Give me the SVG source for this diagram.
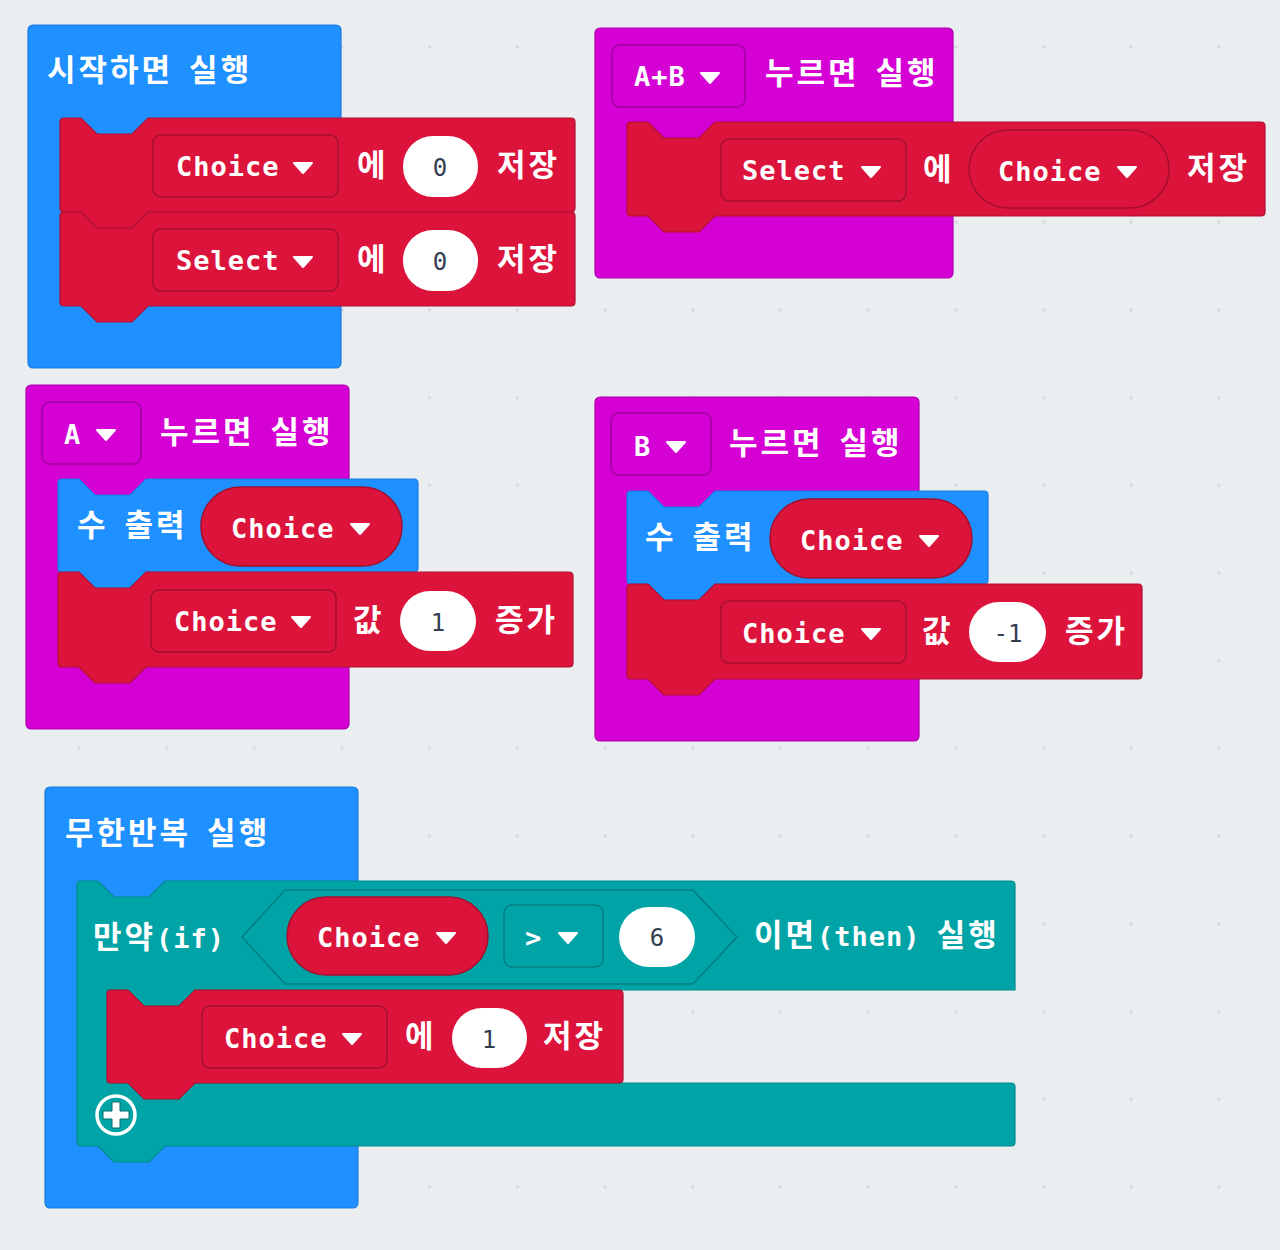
<svg xmlns="http://www.w3.org/2000/svg" xmlns:xlink="http://www.w3.org/1999/xlink" width="1280" height="1250" viewBox="0 0 1280 1250">
<style>
.k{font-family:"Noto Sans CJK KR","Noto Sans CJK SC",sans-serif;font-size:31px;font-weight:700;fill:#fff;letter-spacing:3px;word-spacing:6px}
.m{font-family:"DejaVu Sans Mono","Liberation Mono",monospace;font-size:27px;font-weight:700;fill:#fff;letter-spacing:1px}
.lm{font-family:"DejaVu Sans Mono","Liberation Mono",monospace;font-size:27px;font-weight:700;letter-spacing:1px}
.n{font-family:"DejaVu Sans Mono","Liberation Mono",monospace;font-size:24px;fill:#333d4f;text-anchor:middle}
.blue{fill:#1e90ff;stroke:#1a7de0;stroke-width:1.2}
.mag{fill:#d400d4;stroke:#b000b0;stroke-width:1.2}
.red{fill:#dc143c;stroke:#b01031;stroke-width:1.2}
.teal{fill:#00a4a6;stroke:#008a8c;stroke-width:1.2}
.ddr{fill:#dc143c;stroke:#a30f2c;stroke-width:1.5}
.ddm{fill:#d400d4;stroke:#a000a0;stroke-width:1.5}
.ddt{fill:#00a4a6;stroke:#007f81;stroke-width:1.5}
.wo{fill:#fff}
.arr{fill:#fff;stroke:#fff;stroke-width:2;stroke-linejoin:round}
</style>
<defs>
<pattern id="grid" patternUnits="userSpaceOnUse" x="35" y="3" width="87.7" height="87.7">
<path d="M41.85,43.85h4M43.85,41.85v4" stroke="#cdd3d8" stroke-width="1"/>
</pattern>
<path id="arrow" d="M-9,-4L9,-4L0,6Z"/>
</defs>
<rect width="1280" height="1250" fill="#ebeef0"/>
<rect width="1280" height="1250" fill="url(#grid)"/>

<g id="on-start">
<rect class="blue" x="28" y="25" width="313" height="343" rx="5"/>
<text class="k" x="47" y="81">시작하면 실행</text>
<g id="set-choice-0">
<path class="red" d="M60,122 Q60,118 64,118 H81 L97,134 H132 L148,118 H571 Q575,118 575,122 V208 Q575,212 571,212 H148 L132,228 H97 L81,212 H64 Q60,212 60,208 Z"/>
<rect class="ddr" x="153" y="135" width="185" height="62" rx="8"/>
<text class="m" x="176" y="176">Choice</text>
<use href="#arrow" class="arr" x="303" y="167"/>
<text class="k" x="357" y="176">에</text>
<rect class="wo" x="403" y="136" width="75" height="61" rx="30"/>
<text class="n" x="440" y="176">0</text>
<text class="k" x="497" y="176">저장</text>
</g>
<g id="set-select-0">
<path class="red" d="M60,216 Q60,212 64,212 H81 L97,228 H132 L148,212 H571 Q575,212 575,216 V302 Q575,306 571,306 H148 L132,322 H97 L81,306 H64 Q60,306 60,302 Z"/>
<rect class="ddr" x="153" y="229" width="185" height="62" rx="8"/>
<text class="m" x="176" y="270">Select</text>
<use href="#arrow" class="arr" x="303" y="261"/>
<text class="k" x="357" y="270">에</text>
<rect class="wo" x="403" y="230" width="75" height="61" rx="30"/>
<text class="n" x="440" y="270">0</text>
<text class="k" x="497" y="270">저장</text>
</g>
</g>

<g id="on-ab">
<rect class="mag" x="595" y="28" width="358" height="250" rx="5"/>
<rect class="ddm" x="612" y="45" width="133" height="62" rx="8"/>
<text class="m" x="634" y="86">A+B</text>
<use href="#arrow" class="arr" x="710" y="77"/>
<text class="k" x="765" y="84">누르면 실행</text>
<g id="set-select-choice">
<path class="red" d="M627,126 Q627,122 631,122 H648 L664,138 H699 L715,122 H1261 Q1265,122 1265,126 V212 Q1265,216 1261,216 H715 L699,232 H664 L648,216 H631 Q627,216 627,212 Z"/>
<rect class="ddr" x="721" y="139" width="185" height="62" rx="8"/>
<text class="m" x="742" y="180">Select</text>
<use href="#arrow" class="arr" x="871" y="171"/>
<text class="k" x="923" y="180">에</text>
<rect class="ddr" x="969" y="130" width="200" height="78" rx="39"/>
<text class="m" x="998" y="181">Choice</text>
<use href="#arrow" class="arr" x="1127" y="171"/>
<text class="k" x="1187" y="179">저장</text>
</g>
</g>

<g id="on-a">
<rect class="mag" x="26" y="385" width="323" height="344" rx="5"/>
<rect class="ddm" x="42" y="402" width="99" height="62" rx="8"/>
<text class="m" x="64" y="444">A</text>
<use href="#arrow" class="arr" x="106" y="434"/>
<text class="k" x="160" y="443">누르면 실행</text>
<g id="show-a">
<path class="blue" d="M58,483 Q58,479 62,479 H79 L95,495 H130 L146,479 H414 Q418,479 418,483 V568 Q418,572 414,572 H146 L130,588 H95 L79,572 H62 Q58,572 58,568 Z"/>
<text class="k" x="77" y="536">수 출력</text>
<rect class="ddr" x="201" y="487" width="201" height="79" rx="39.5"/>
<text class="m" x="231" y="538">Choice</text>
<use href="#arrow" class="arr" x="360" y="528"/>
</g>
<g id="change-a">
<path class="red" d="M58,576 Q58,572 62,572 H79 L95,588 H130 L146,572 H569 Q573,572 573,576 V663 Q573,667 569,667 H146 L130,683 H95 L79,667 H62 Q58,667 58,663 Z"/>
<rect class="ddr" x="151" y="590" width="185" height="62" rx="8"/>
<text class="m" x="174" y="631">Choice</text>
<use href="#arrow" class="arr" x="301" y="621"/>
<text class="k" x="353" y="631">값</text>
<rect class="wo" x="400" y="591" width="76" height="60" rx="30"/>
<text class="n" x="438" y="631">1</text>
<text class="k" x="495" y="631">증가</text>
</g>
</g>

<g id="on-b">
<rect class="mag" x="595" y="397" width="324" height="344" rx="5"/>
<rect class="ddm" x="611" y="413" width="100" height="62" rx="8"/>
<text class="m" x="634" y="456">B</text>
<use href="#arrow" class="arr" x="676" y="446"/>
<text class="k" x="729" y="454">누르면 실행</text>
<g id="show-b">
<path class="blue" d="M627,495 Q627,491 631,491 H648 L664,507 H699 L715,491 H984 Q988,491 988,495 V580 Q988,584 984,584 H715 L699,600 H664 L648,584 H631 Q627,584 627,580 Z"/>
<text class="k" x="645" y="548">수 출력</text>
<rect class="ddr" x="770" y="499" width="202" height="79" rx="39.5"/>
<text class="m" x="800" y="550">Choice</text>
<use href="#arrow" class="arr" x="929" y="540"/>
</g>
<g id="change-b">
<path class="red" d="M627,588 Q627,584 631,584 H648 L664,600 H699 L715,584 H1138 Q1142,584 1142,588 V675 Q1142,679 1138,679 H715 L699,695 H664 L648,679 H631 Q627,679 627,675 Z"/>
<rect class="ddr" x="721" y="601" width="185" height="62" rx="8"/>
<text class="m" x="742" y="643">Choice</text>
<use href="#arrow" class="arr" x="871" y="633"/>
<text class="k" x="922" y="642">값</text>
<rect class="wo" x="969" y="602" width="77" height="60" rx="30"/>
<text class="n" x="1008" y="642">-1</text>
<text class="k" x="1065" y="642">증가</text>
</g>
</g>

<g id="forever">
<rect class="blue" x="45" y="787" width="313" height="421" rx="5"/>
<text class="k" x="65" y="844">무한반복 실행</text>
<g id="if-block">
<path class="teal" d="M77,885 Q77,881 81,881 H98 L114,897 H149 L165,881 H1011 Q1015,881 1015,885 V990 H195 L179,1006 H144 L128,990 H107 V1083 H1011 Q1015,1083 1015,1087 V1142 Q1015,1146 1011,1146 H165 L149,1162 H114 L98,1146 H81 Q77,1146 77,1142 Z"/>
<text class="k" x="93" y="948">만약<tspan class="lm">(if)</tspan></text>
<path class="ddt" d="M242,937 L285,890 H693 L737,937 L693,984 H285 Z"/>
<rect class="ddr" x="287" y="897" width="201" height="78" rx="39"/>
<text class="m" x="317" y="947">Choice</text>
<use href="#arrow" class="arr" x="446" y="937"/>
<rect class="ddt" x="504" y="905" width="99" height="62" rx="8"/>
<text class="m" x="525" y="947">&gt;</text>
<use href="#arrow" class="arr" x="568" y="937"/>
<rect class="wo" x="619" y="907" width="76" height="60" rx="30"/>
<text class="n" x="657" y="946">6</text>
<text class="k" x="754" y="946">이면<tspan class="lm">(then)</tspan> 실행</text>
<g id="set-choice-1">
<path class="red" d="M107,994 Q107,990 111,990 H128 L144,1006 H179 L195,990 H619 Q623,990 623,994 V1079 Q623,1083 619,1083 H195 L179,1099 H144 L128,1083 H111 Q107,1083 107,1079 Z"/>
<rect class="ddr" x="202" y="1006" width="185" height="62" rx="8"/>
<text class="m" x="224" y="1048">Choice</text>
<use href="#arrow" class="arr" x="352" y="1038"/>
<text class="k" x="405" y="1047">에</text>
<rect class="wo" x="452" y="1008" width="75" height="60" rx="30"/>
<text class="n" x="489" y="1048">1</text>
<text class="k" x="543" y="1047">저장</text>
</g>
<g id="add-button">
<circle cx="116" cy="1115" r="19" fill="none" stroke="#fff" stroke-width="3.5"/>
<path d="M112,1102 h8 v9 h9 v8 h-9 v9 h-8 v-9 h-9 v-8 h9 Z" fill="#fff" stroke="#006e70" stroke-width="1" stroke-linejoin="round"/>
</g>
</g>
</g>
</svg>
